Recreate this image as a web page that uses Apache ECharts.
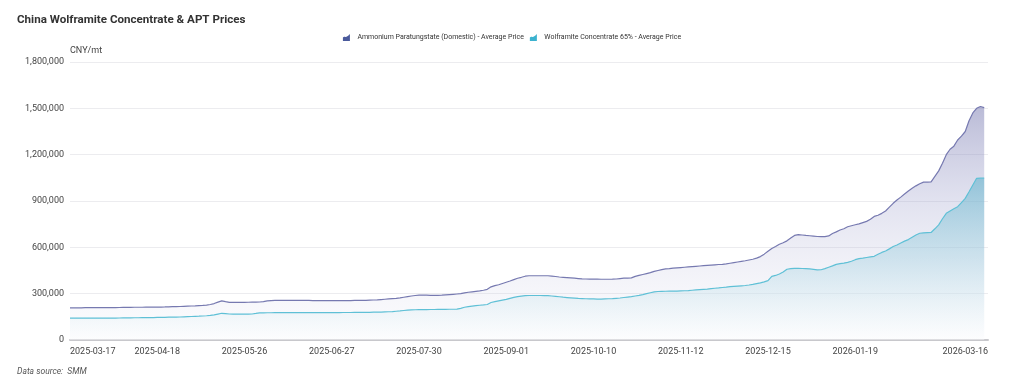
<!DOCTYPE html>
<html>
<head>
<meta charset="utf-8">
<script src="https://cdn.jsdelivr.net/npm/echarts@6/dist/echarts.min.js"></script>
<style>
html,body{margin:0;padding:0;background:#fff;}
#chart{width:1024px;height:385px;}
</style>
</head>
<body>
<div id="chart"></div>
<script>
// Trading-day categories: weekdays from 2025-03-17 to 2026-03-16, excluding Chinese holidays
const startDate = '2025-03-17';
const endDate = '2026-03-16';
const holidays = ['2025-04-04','2025-05-01','2025-05-02','2025-05-05','2025-06-02',
  '2025-10-01','2025-10-02','2025-10-03','2025-10-06','2025-10-07','2025-10-08',
  '2026-01-01','2026-01-02',
  '2026-02-16','2026-02-17','2026-02-18','2026-02-19','2026-02-20'];

function buildDates(s, e, skip) {
  const out = [];
  const d = new Date(s + 'T00:00:00Z');
  const end = new Date(e + 'T00:00:00Z');
  while (d <= end) {
    const wd = d.getUTCDay();
    const str = d.toISOString().slice(0, 10);
    if (wd !== 0 && wd !== 6 && skip.indexOf(str) < 0) out.push(str);
    d.setUTCDate(d.getUTCDate() + 1);
  }
  return out;
}
const categories = buildDates(startDate, endDate, holidays);

const aptPrices = [
  208500,208500,208500,208500,209000,209000,209000,209000,209000,209500,
  209500,210000,210000,210500,211000,211500,211500,212000,212000,212000,
  212500,212500,212500,213000,213500,214000,215000,216000,216500,217000,
  218000,219000,220000,221000,222500,224000,226000,230000,236000,245000,
  253000,248000,244000,243500,243500,244000,244000,244500,245000,245500,
  246000,249000,253000,255000,256000,256000,256000,256000,256000,256000,
  256000,256000,256000,256000,255500,255500,255500,255000,255000,255000,
  255000,255000,255000,255000,255500,256000,256000,256500,257000,258000,
  259000,260000,262000,264000,266000,268000,270000,273000,277000,281000,
  285000,288000,290000,291000,290500,289500,289000,289500,290000,292000,
  294000,296000,298000,300000,305000,309000,312000,315000,318000,322000,
  328000,344000,352000,358000,366000,374000,382000,391000,400000,406000,
  413000,416000,416000,416000,416000,416000,416000,414000,411000,408000,
  406000,404000,402000,400000,398000,396000,395000,394500,394000,394000,
  393500,393500,393500,394000,395000,398000,400000,401000,402000,412000,
  418000,424000,430000,436000,444000,450000,456000,460000,462000,465000,
  467000,469000,471000,473000,475000,477000,479000,481000,483000,485000,
  487000,489000,490000,493000,497000,501000,505000,509000,513000,518000,
  523000,530000,540000,556000,575000,592000,605000,620000,630000,642000,
  660000,677000,682000,680000,677000,675000,673000,670000,669000,669000,
  674000,690000,700000,712000,720000,733000,740000,746000,752000,760000,
  768000,782000,800000,808000,820000,835000,860000,885000,906000,925000,
  945000,965000,982000,998000,1012000,1022000,1022000,1024000,1060000,1095000,
  1145000,1200000,1235000,1255000,1295000,1320000,1350000,1420000,1470000,1500000,
  1512000,1505000
];

const wolframitePrices = [
  141000,141000,141000,141000,141000,141000,141000,141000,141000,141500,
  141500,142000,142000,142500,143000,143000,143500,144000,144000,144500,
  145000,145000,145500,146000,146500,147000,147500,148000,148500,149000,
  150000,151000,152000,153000,154000,155500,157000,159000,163000,168000,
  173000,171000,168500,168000,168000,168000,168000,168000,168500,172000,
  176000,176000,176500,176500,177000,177000,177000,177000,177000,177000,
  177000,177000,177000,177000,177000,177000,177000,177000,177000,177000,
  177500,177500,178000,178000,178000,178500,178500,179000,179000,179500,
  180000,180500,181000,182000,183000,184000,186000,188000,191000,194000,
  195000,196000,196500,197000,197000,197500,197500,198000,198000,198500,
  199000,199000,199500,205000,212000,216000,219000,222000,225000,227000,
  230000,243000,248000,253000,258000,263000,270000,276000,281000,284000,
  287000,288000,288000,288000,288000,287500,287000,285000,283000,280000,
  277000,275000,273000,271000,269000,268000,267000,266000,266000,265000,
  265000,266000,267000,268000,270000,272000,275000,278000,281000,285000,
  289000,294000,300000,306000,312000,314000,315000,315500,316000,316500,
  317000,318000,319000,320000,322000,324000,326000,328000,330000,333000,
  335000,337000,340000,342000,345000,347000,349000,351000,353000,356000,
  360000,365000,370000,376000,384000,412000,418000,427000,440000,458000,
  462000,464000,464000,463000,462000,460000,457000,454000,455000,462000,
  471000,480000,490000,494000,498000,503000,510000,520000,527000,530000,
  534000,538000,542000,555000,567000,576000,590000,605000,615000,628000,
  640000,650000,665000,680000,691000,694000,695000,696000,720000,745000,
  785000,820000,835000,850000,863000,890000,917000,960000,1004000,1047000,
  1048000,1048000
];

const seriesNames = ['Ammonium Paratungstate (Domestic) - Average Price', 'Wolframite Concentrate 65% - Average Price'];
const yTicks = { min: 0, max: 1800000, interval: 300000 };
const labelStep = 23;

const FONT = 'Roboto, "Noto Sans", sans-serif';
const areaIcon = 'path://M0,10 L0,5 C2,3 3,5 5,4 C7,3 8,2 10,0 L10,10 Z';

const chart = echarts.init(document.getElementById('chart'), null, { renderer: 'canvas' });
const lastIdx = categories.length - 1;
chart.setOption({
  animation: false,
  backgroundColor: '#fff',
  title: [{
    text: 'China Wolframite Concentrate & APT Prices',
    left: 12, top: 9,
    textStyle: { fontFamily: FONT, fontSize: 11.6, fontWeight: 'bold', color: '#333' }
  }, {
    text: 'Data source:  SMM',
    left: 12, top: 362,
    textStyle: { fontFamily: FONT, fontSize: 8.5, fontWeight: 'normal', fontStyle: 'italic', color: '#555' }
  }],
  legend: {
    top: 29, left: 'center',
    itemWidth: 12, itemHeight: 7, itemGap: 6,
    textStyle: { fontFamily: FONT, fontSize: 7, color: '#333' },
    data: [
      { name: seriesNames[0], icon: areaIcon, itemStyle: { color: '#4a5a9c' } },
      { name: seriesNames[1], icon: areaIcon, itemStyle: { color: '#3cb2cf' } }
    ]
  },
  grid: { left: 70, right: 36, top: 62, bottom: 45, containLabel: false },
  xAxis: {
    type: 'category',
    data: categories,
    boundaryGap: false,
    axisLine: { lineStyle: { color: '#c8c8cc', width: 2 } },
    axisTick: { show: false },
    axisLabel: {
      fontFamily: FONT, fontSize: 9, color: '#444', margin: 7,
      interval: function (i) { return (i % labelStep === 0 && lastIdx - i > labelStep / 2) || i === lastIdx; },
      showMinLabel: true, showMaxLabel: true,
      alignMinLabel: 'left', alignMaxLabel: 'right'
    },
    splitLine: { show: false }
  },
  yAxis: {
    type: 'value',
    name: 'CNY/mt',
    nameLocation: 'end',
    nameGap: 7,
    nameTextStyle: { fontFamily: FONT, fontSize: 9, color: '#444', align: 'left', padding: [0, 0, 0, 0] },
    min: yTicks.min, max: yTicks.max, interval: yTicks.interval,
    axisLine: { show: false },
    axisTick: { show: false },
    axisLabel: {
      fontFamily: FONT, fontSize: 9, color: '#444', margin: 6,
      formatter: function (v) { return v.toLocaleString('en-US'); }
    },
    splitLine: { lineStyle: { color: '#ececef', width: 1 } }
  },
  series: [{
    name: seriesNames[0],
    type: 'line',
    data: aptPrices,
    showSymbol: false,
    smooth: false,
    z: 2,
    lineStyle: { color: '#7679b0', width: 1.2 },
    itemStyle: { color: '#7679b0' },
    areaStyle: {
      color: new echarts.graphic.LinearGradient(0, 0, 0, 1, [
        { offset: 0, color: 'rgba(118,120,175,0.72)' },
        { offset: 0.4, color: 'rgba(160,162,205,0.45)' },
        { offset: 1, color: 'rgba(230,230,242,0.18)' }
      ])
    }
  }, {
    name: seriesNames[1],
    type: 'line',
    data: wolframitePrices,
    showSymbol: false,
    smooth: false,
    z: 3,
    lineStyle: { color: '#5fc0d6', width: 1.2 },
    itemStyle: { color: '#5fc0d6' },
    areaStyle: {
      color: new echarts.graphic.LinearGradient(0, 0, 0, 1, [
        { offset: 0, color: 'rgba(100,180,205,0.85)' },
        { offset: 0.5, color: 'rgba(160,208,224,0.6)' },
        { offset: 1, color: 'rgba(255,255,255,0.5)' }
      ])
    }
  }]
});
</script>
</body>
</html>
